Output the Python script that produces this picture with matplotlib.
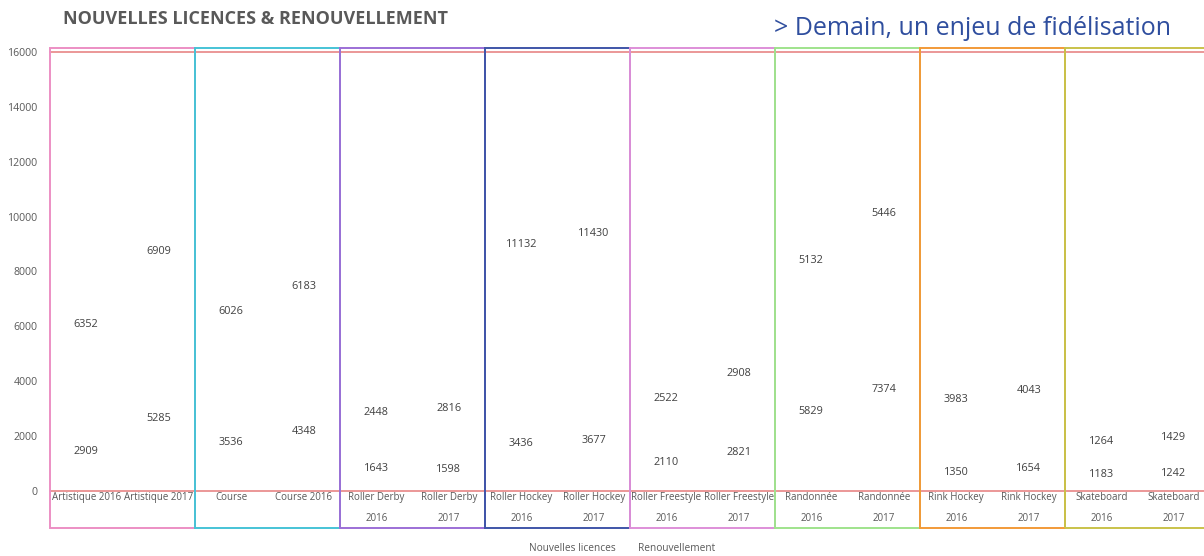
import matplotlib.pyplot as plt
import matplotlib.transforms as mtransforms
from matplotlib.patches import Rectangle

plt.rcParams['font.family'] = ['Open Sans', 'DejaVu Sans']

categories = [
    "Artistique 2016", "Artistique 2017", "Course", "Course 2016",
    "Roller Derby\n2016", "Roller Derby\n2017",
    "Roller Hockey\n2016", "Roller Hockey\n2017",
    "Roller Freestyle\n2016", "Roller Freestyle\n2017",
    "Randonnée\n2016", "Randonnée\n2017",
    "Rink Hockey\n2016", "Rink Hockey\n2017",
    "Skateboard\n2016", "Skateboard\n2017",
]
nouvelles = [2909, 5285, 3536, 4348, 1643, 1598, 3436, 3677,
             2110, 2821, 5829, 7374, 1350, 1654, 1183, 1242]
renouvellement = [6352, 6909, 6026, 6183, 2448, 2816, 11132, 11430,
                  2522, 2908, 5132, 5446, 3983, 4043, 1264, 1429]
group_colors = ["#EC8FC4", "#46C3D6", "#9C6FD6", "#3F55A8",
                "#DE8FD8", "#9FE38C", "#F29A38", "#C9C24A"]

fig = plt.figure(figsize=(12.04, 5.56), dpi=100)
ax = fig.add_axes([0.0415, 0.1169, 0.9635, 0.7896])

x = list(range(len(categories)))
b1 = ax.bar(x, nouvelles, width=0.6, color="none", label="Nouvelles licences")
b2 = ax.bar(x, renouvellement, width=0.6, bottom=nouvelles, color="none",
            label="Renouvellement")
ax.bar_label(b1, label_type="center", fontsize=7.8, color="#404040")
ax.bar_label(b2, label_type="center", fontsize=7.8, color="#404040")

ax.set_xlim(-0.5, len(categories) - 0.5)
ax.set_ylim(0, 16000)
ax.set_yticks(range(0, 16001, 2000))
ax.set_xticks(x)
ax.set_xticklabels(categories, fontsize=7, color="#595959", linespacing=2.25)
ax.tick_params(axis="x", length=0, pad=1)
ax.tick_params(axis="y", length=0, labelsize=7.6, labelcolor="#595959", pad=9)

for side in ["left", "right"]:
    ax.spines[side].set_visible(False)
for side in ["top", "bottom"]:
    ax.spines[side].set_color("#E88585")
    ax.spines[side].set_linewidth(1.2)

# coloured frames around each pair of bars
trans = mtransforms.blended_transform_factory(ax.transData, ax.transAxes)
for i, c in enumerate(group_colors):
    ax.add_patch(Rectangle((2 * i - 0.5, -0.084), 2, 1.093, transform=trans,
                           fill=False, edgecolor=c, linewidth=1.4,
                           clip_on=False, zorder=3))

ax.legend(loc="center", bbox_to_anchor=(0.493, -0.13), ncol=2,
          frameon=False, fontsize=7.3, handlelength=0, handletextpad=0,
          columnspacing=2.2, labelcolor="#595959", borderpad=0.2)

fig.text(0.052, 0.965, "NOUVELLES LICENCES & RENOUVELLEMENT", fontsize=13,
         fontweight="bold", color="#595959", va="center")
fig.text(0.973, 0.948, "> Demain, un enjeu de fidélisation", fontsize=18,
         color="#2F4E9E", va="center", ha="right")

fig.savefig("out.png", dpi=100)
